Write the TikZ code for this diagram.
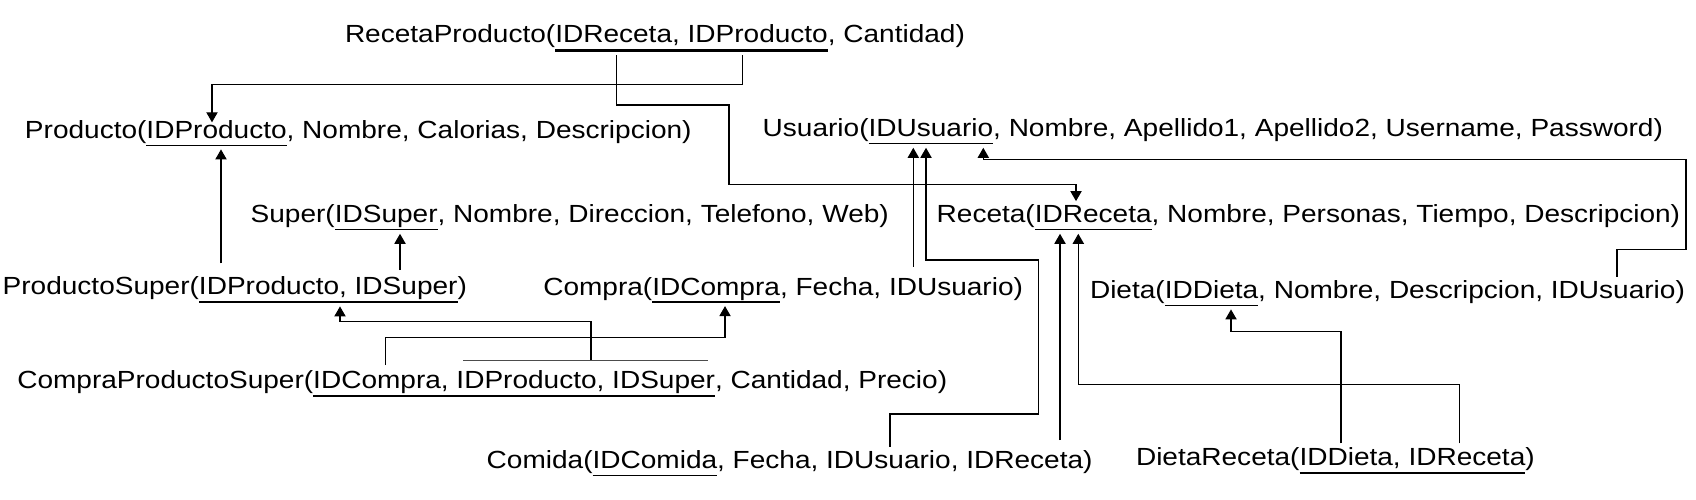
\documentclass[tikz,border=0pt]{standalone}
\usepackage{fontspec}
\setmainfont{Liberation Sans}[FakeStretch=1.13]
\usepackage{tikz}
\usetikzlibrary{arrows.meta}
\tikzset{
  font={\fontsize{12.4pt}{14pt}\selectfont}}
\newsavebox\keybox
\newcommand{\pk}[1]{\sbox\keybox{#1}\rlap{\rule[-3.75pt]{\wd\keybox}{0.55pt}}\usebox\keybox}
\newcommand{\cpk}[1]{\sbox\keybox{#1}\rlap{\rule[-4.4pt]{\wd\keybox}{1.1pt}}\usebox\keybox}

\begin{document}
\begin{tikzpicture}[x=0.5pt,y=-0.5pt]
\tikzstyle{every node}+=[inner sep=0pt,outer sep=1.8pt,anchor=base west]
\tikzstyle{fk}=[black,line width=0.6pt,-{Triangle[width=5.6pt,length=5pt]}]
\useasboundingbox (0,0) rectangle (1696,499);
\node (rp) at (341.4,42.7) {RecetaProducto(\cpk{IDReceta, IDProducto}, Cantidad)};
\node (prod) at (21.4,138.3) {Producto(\pk{IDProducto}, Nombre, Calorias, Descripcion)};
\node (usu) at (759.1,136.7) {Usuario(\pk{IDUsuario}, Nombre, Apellido1, Apellido2, Username, Password)};
\node (sup) at (247.1,222.7) {Super(\pk{IDSuper}, Nombre, Direccion, Telefono, Web)};
\node (rec) at (933.1,222.7) {Receta(\pk{IDReceta}, Nombre, Personas, Tiempo, Descripcion)};
\node (psup) at (-0.9,294) {ProductoSuper(\cpk{IDProducto, IDSuper})};
\node (comp) at (539.7,295) {Compra(\pk{IDCompra}, Fecha, IDUsuario)};
\node (diet) at (1086.4,298.3) {Dieta(\pk{IDDieta}, Nombre, Descripcion, IDUsuario)};
\node (cps) at (13.7,388.3) {CompraProductoSuper(\cpk{IDCompra, IDProducto, IDSuper}, Cantidad, Precio)};
\node (com) at (483.1,468.3) {Comida(\pk{IDComida}, Fecha, IDUsuario, IDReceta)};
\node (dr) at (1132.4,465) {DietaReceta(\cpk{IDDieta, IDReceta})};
\draw[fk,shorten >=-2.8pt] (rp.south -| 742.7,0) |- (212,84.3) -- (prod.north -| 212,0);
\draw[fk] (rp.south -| 616.7,0) |- (729,105) |- (1076,184.3) -- (rec.north -| 1076,0);
\draw[fk] (psup.north -| 221,0) ++(0,-9) -- (prod.south -| 221,0);
\draw[fk] (psup.north -| 400,0) ++(0,-2.4) -- (sup.south -| 400,0);
\draw[fk] (cps.north -| 591,0) ++(0,-6.4) |- (340,321.7) -- (psup.south -| 340,0);
\draw[fk] (cps.north -| 385.7,0) ++(0,-1.7) |- (725,337.7) -- (comp.south -| 725,0);
\draw[black!70,line width=0.5pt] (cps.north -| 463.3,0) ++(0,-6.4) -- ++(245,0);
\draw[fk] (comp.north -| 913.3,0) ++(0,-6.7) -- (usu.south -| 913.3,0);
\draw[fk] (com.north -| 890,0) |- (1038.3,414) |- (926,260) -- (usu.south -| 926,0);
\draw[fk] (diet.north -| 1617,0) |- (1686,249.3) |- (983.3,159.3) -- (usu.south -| 983.3,0);
\draw[fk] (com.north -| 1060,0) ++(0,-6.7) -- (rec.south -| 1060,0);
\draw[fk] (dr.north -| 1459.3,0) |- (1078.3,384.3) -- (rec.south -| 1078.3,0);
\draw[fk] (dr.north -| 1341,0) |- (1231,331.7) -- (diet.south -| 1231,0);
\end{tikzpicture}
\end{document}
